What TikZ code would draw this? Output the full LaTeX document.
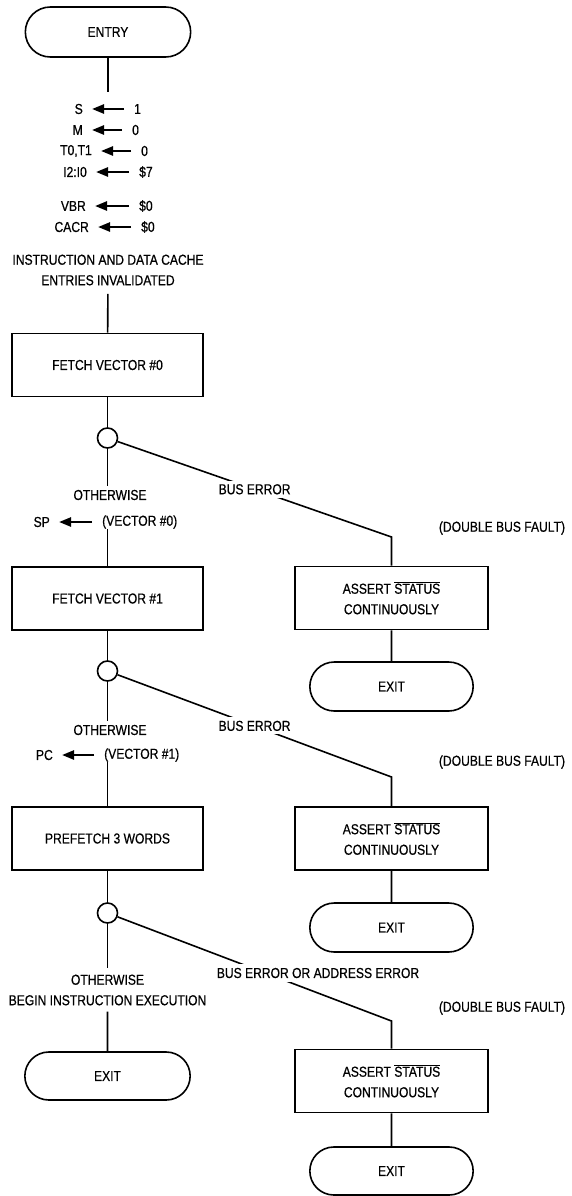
\documentclass[tikz,border=0pt]{standalone}
\usepackage{fontspec}
\setmainfont{Liberation Sans}[FakeStretch=0.84,FakeBold=0.6]
\usetikzlibrary{arrows.meta,shapes.misc,positioning}

\begin{document}
\begin{tikzpicture}[x=1pt,y=-1pt,>=Latex,
    every node/.style={font=\fontsize{14.4}{20.5}\selectfont,align=center},
    flow/.style={line width=1.6pt},
    pill/.style={draw,line width=1.6pt,rounded rectangle,minimum width=172pt,minimum height=50pt},
    actbox/.style={draw,line width=1.6pt,rectangle,minimum width=191pt,minimum height=63pt},
    test/.style={draw,line width=1.6pt,circle,minimum size=20pt,inner sep=0pt},
    lbl/.style={fill=white,inner sep=3.5pt},
    reg/.style={inner sep=0pt},
    setarr/.style={-{Triangle[length=12pt,width=9pt]},line width=2.4pt,shorten <=10pt,shorten >=9pt}]
  \useasboundingbox (0,0) rectangle (571,1196);

  % Entry
  \node[pill] (entry) at (108,32) {ENTRY};
  \coordinate (regtop) at (108,92);
  \draw[flow] (entry) -- (regtop);

  % Register setup
  \node[reg,anchor=east] (sN) at (83,109) {S};
  \node[reg,anchor=west] (sV) at (134,109) {1};
  \draw[setarr] (sV) -- (sN);
  \node[reg,anchor=east] (mN) at (83,130) {M};
  \node[reg,anchor=west] (mV) at (132,130) {0};
  \draw[setarr] (mV) -- (mN);
  \node[reg,anchor=east] (tN) at (92,151) {T0,T1};
  \node[reg,anchor=west] (tV) at (141,151) {0};
  \draw[setarr] (tV) -- (tN);
  \node[reg,anchor=east] (iN) at (87,172) {I2:I0};
  \node[reg,anchor=west] (iV) at (139,172) {\$7};
  \draw[setarr] (iV) -- (iN);
  \node[reg,anchor=east] (vbrN) at (86,206) {VBR};
  \node[reg,anchor=west] (vbrV) at (139,206) {\$0};
  \draw[setarr] (vbrV) -- (vbrN);
  \node[reg,anchor=east] (cacrN) at (89,227) {CACR};
  \node[reg,anchor=west] (cacrV) at (141,227) {\$0};
  \draw[setarr] (cacrV) -- (cacrN);

  \node (cache) at (108,270) {INSTRUCTION AND DATA CACHE\\ENTRIES INVALIDATED};

  % Vector #0
  \node[actbox] (fetch0) at (107.5,365) {FETCH VECTOR \#0};
  \draw[flow,shorten <=5pt] (cache) -- (fetch0);
  \node[test] (c1) at (107.5,438) {};
  \draw[flow] (fetch0) -- (c1);
  \node (ow1) at (110,495) {OTHERWISE};
  \draw[flow] (c1) -- (c1 |- ow1.north);
  \node[reg,anchor=east] (spN) at (50,522) {SP};
  \node[reg,anchor=west] (spV) at (102,522) {(VECTOR \#0)};
  \draw[setarr] (spV) -- (spN);

  \coordinate (k1) at (391.5,537);
  \node[actbox,minimum width=193pt] (assert1) at (391.5,598) {ASSERT $\overline{\mbox{STATUS}}$\\CONTINUOUSLY};
  \draw[flow] (c1) -- node[lbl] {BUS ERROR} (k1) -- (assert1);
  \node (dbf1) at (502,528) {(DOUBLE BUS FAULT)};
  \node[pill,minimum width=170pt,minimum height=49pt] (exit1) at (391.5,686.5) {EXIT};
  \draw[flow] (assert1) -- (exit1);

  % Vector #1
  \node[actbox] (fetch1) at (107.5,598.5) {FETCH VECTOR \#1};
  \draw[flow] (spV.south -| fetch1) -- (fetch1);
  \node[test] (c2) at (107.5,671) {};
  \draw[flow] (fetch1) -- (c2);
  \node (ow2) at (110,730) {OTHERWISE};
  \draw[flow] (c2) -- (c2 |- ow2.north);
  \node[reg,anchor=east] (pcN) at (53,755) {PC};
  \node[reg,anchor=west] (pcV) at (104,755) {(VECTOR \#1)};
  \draw[setarr] (pcV) -- (pcN);

  \coordinate (k2) at (391.5,777);
  \node[actbox,minimum width=193pt] (assert2) at (391.5,838.5) {ASSERT $\overline{\mbox{STATUS}}$\\CONTINUOUSLY};
  \draw[flow] (c2) -- node[lbl] {BUS ERROR} (k2) -- (assert2);
  \node (dbf2) at (502,762) {(DOUBLE BUS FAULT)};
  \node[pill,minimum width=170pt,minimum height=49pt] (exit2) at (391.5,927.5) {EXIT};
  \draw[flow] (assert2) -- (exit2);

  % Prefetch
  \node[actbox] (prefetch) at (107.5,838.5) {PREFETCH 3 WORDS};
  \draw[flow] (pcV.south -| prefetch) -- (prefetch);
  \node[test] (c3) at (107.5,913) {};
  \draw[flow] (prefetch) -- (c3);
  \node[inner sep=6pt] (ow3) at (107.5,990) {OTHERWISE\\BEGIN INSTRUCTION EXECUTION};
  \draw[flow] (c3) -- (ow3);
  \node[pill,minimum height=48pt] (exit0) at (107.5,1076) {EXIT};
  \draw[flow] (ow3) -- (exit0);

  \coordinate (k3) at (391.5,1021);
  \node[actbox,minimum width=193pt] (assert3) at (391.5,1081) {ASSERT $\overline{\mbox{STATUS}}$\\CONTINUOUSLY};
  \draw[flow] (c3) -- (k3) -- (assert3);
  \node[lbl] (bus3) at (318,973) {BUS ERROR OR ADDRESS ERROR};
  \node (dbf3) at (502,1008) {(DOUBLE BUS FAULT)};
  \node[pill,minimum width=170pt,minimum height=48pt] (exit3) at (391.5,1171) {EXIT};
  \draw[flow] (assert3) -- (exit3);
\end{tikzpicture}
\end{document}
